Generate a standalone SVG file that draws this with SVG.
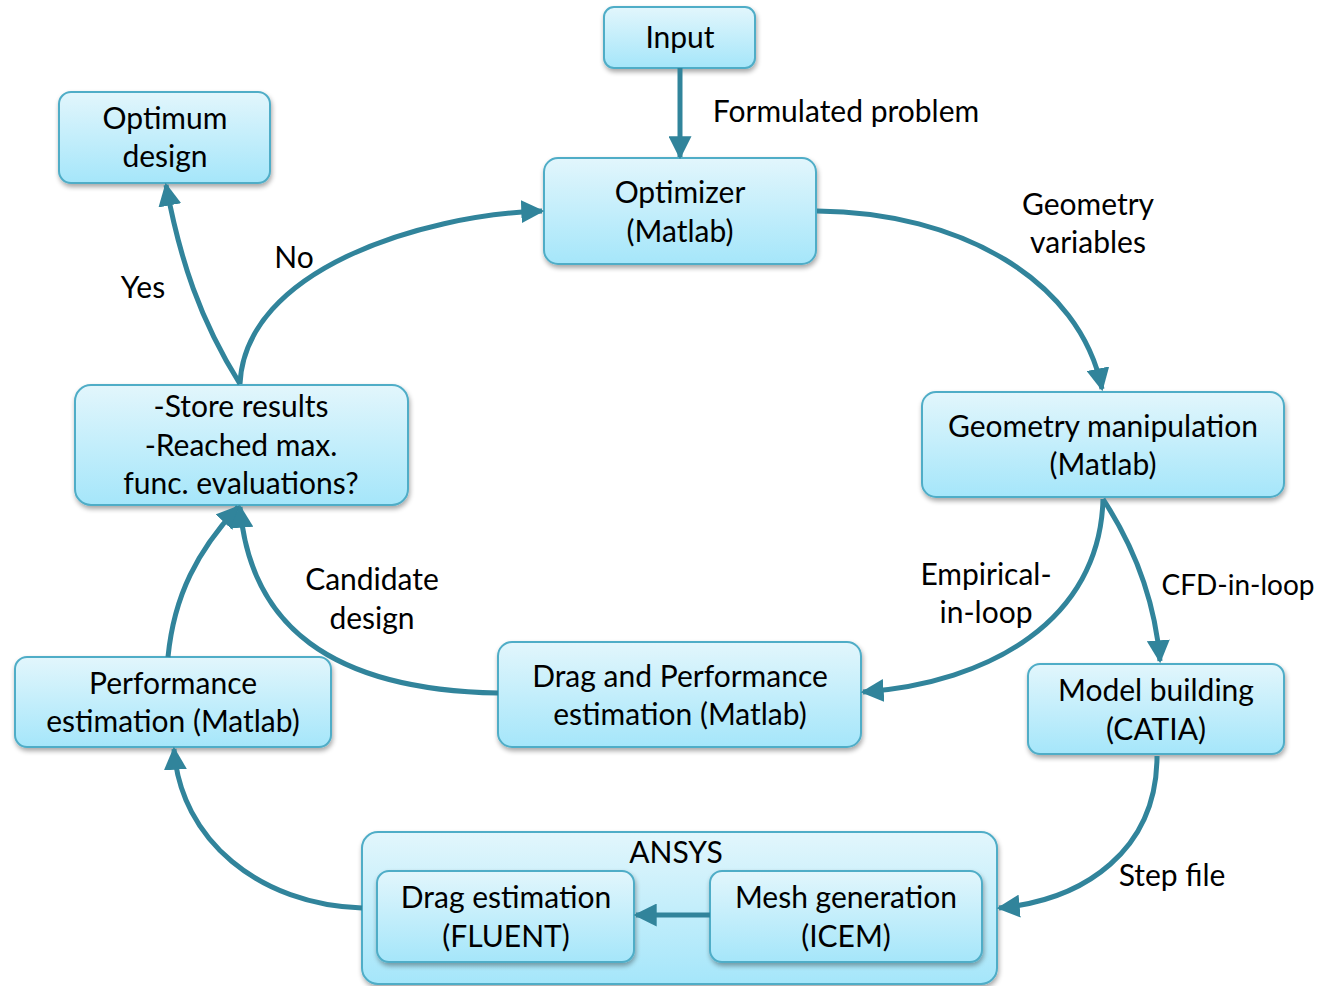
<svg xmlns="http://www.w3.org/2000/svg" width="1321" height="986" viewBox="0 0 1321 986">
  <defs>
    <linearGradient id="boxFill" x1="0" y1="0" x2="0" y2="1">
      <stop offset="0" stop-color="#e2f6fc"/>
      <stop offset="1" stop-color="#a5e6fa"/>
    </linearGradient>
    <filter id="shadow" x="-10%" y="-10%" width="120%" height="130%">
      <feGaussianBlur in="SourceAlpha" stdDeviation="2.5"/>
      <feOffset dx="1" dy="3" result="b"/>
      <feComponentTransfer><feFuncA type="linear" slope="0.35"/></feComponentTransfer>
      <feMerge><feMergeNode/><feMergeNode in="SourceGraphic"/></feMerge>
    </filter>
    <marker id="arrow" viewBox="0 0 10 10" refX="9" refY="5" markerWidth="4.6" markerHeight="4.6" orient="auto" markerUnits="strokeWidth">
      <path d="M0,0 L10,5 L0,10 Z" fill="#31849b"/>
    </marker>
  </defs>
  <style>
    .box { fill: url(#boxFill); stroke: #4fadc7; stroke-width: 2; filter: url(#shadow); }
    .lbl { font-family: "Lato", "Liberation Sans", sans-serif; font-size: 30px; fill: #000; text-anchor: middle; }
    .edge { fill: none; stroke: #31849b; stroke-width: 5; marker-end: url(#arrow); }
  </style>

  <rect width="1321" height="986" fill="#ffffff"/>

  <!-- container box for the ANSYS tools -->
  <g id="ansys">
    <rect class="box" x="362" y="832" width="635" height="152" rx="16"/>
    <text class="lbl" x="676" y="863">ANSYS</text>
  </g>

  <g id="input">
    <rect class="box" x="604" y="7" width="151" height="61" rx="10"/>
    <text class="lbl" x="680" y="48">Input</text>
  </g>

  <g id="optimizer">
    <rect class="box" x="544" y="158" width="272" height="106" rx="14"/>
    <text class="lbl" x="680" y="203">Optimizer</text>
    <text class="lbl" x="680" y="242">(Matlab)</text>
  </g>

  <g id="optimum">
    <rect class="box" x="59" y="92" width="211" height="91" rx="12"/>
    <text class="lbl" x="165" y="129">Optimum</text>
    <text class="lbl" x="165" y="167">design</text>
  </g>

  <g id="geometry">
    <rect class="box" x="922" y="392" width="362" height="105" rx="14"/>
    <text class="lbl" x="1103" y="437">Geometry manipulation</text>
    <text class="lbl" x="1103" y="475">(Matlab)</text>
  </g>

  <g id="store">
    <rect class="box" x="75" y="385" width="333" height="120" rx="16"/>
    <text class="lbl" x="241" y="417">-Store results</text>
    <text class="lbl" x="241" y="456">-Reached max.</text>
    <text class="lbl" x="241" y="494">func. evaluations?</text>
  </g>

  <g id="dragperf">
    <rect class="box" x="498" y="642" width="363" height="105" rx="14"/>
    <text class="lbl" x="680" y="687">Drag and Performance</text>
    <text class="lbl" x="680" y="725">estimation (Matlab)</text>
  </g>

  <g id="perf">
    <rect class="box" x="15" y="657" width="316" height="90" rx="12"/>
    <text class="lbl" x="173" y="694">Performance</text>
    <text class="lbl" x="173" y="732">estimation (Matlab)</text>
  </g>

  <g id="model">
    <rect class="box" x="1028" y="664" width="256" height="90" rx="12"/>
    <text class="lbl" x="1156" y="701">Model building</text>
    <text class="lbl" x="1156" y="740">(CATIA)</text>
  </g>

  <g id="fluent">
    <rect class="box" x="377" y="871" width="257" height="91" rx="12"/>
    <text class="lbl" x="506" y="908">Drag estimation</text>
    <text class="lbl" x="506" y="947">(FLUENT)</text>
  </g>

  <g id="mesh">
    <rect class="box" x="710" y="871" width="272" height="91" rx="12"/>
    <text class="lbl" x="846" y="908">Mesh generation</text>
    <text class="lbl" x="846" y="947">(ICEM)</text>
  </g>

  <!-- connectors -->
  <g id="connectors">
    <path class="edge" d="M680,68 L680,157"/>
    <path class="edge" d="M817,211 C960,212 1080,280 1102,389"/>
    <path class="edge" d="M1103,499 C1100,620 990,683 863,692"/>
    <path class="edge" d="M1103,499 C1133,545 1155,600 1160,661"/>
    <path class="edge" d="M1157,756 C1157,850 1085,900 999,908"/>
    <path class="edge" d="M710,915 L636,915"/>
    <path class="edge" d="M362,908 C260,905 180,840 174,749"/>
    <path class="edge" d="M168,657 C174,595 198,550 238,507"/>
    <path class="edge" d="M498,693 C330,690 250,625 240,507"/>
    <path class="edge" d="M240,384 C245,270 420,215 542,211"/>
    <path class="edge" d="M240,384 C200,320 180,260 166,185"/>
  </g>

  <!-- connector labels -->
  <g id="edge-labels">
    <text class="lbl" x="846" y="122">Formulated problem</text>
    <text class="lbl" x="1088" y="215">Geometry</text>
    <text class="lbl" x="1088" y="253">variables</text>
    <text class="lbl" x="294" y="268">No</text>
    <text class="lbl" x="143" y="298">Yes</text>
    <text class="lbl" x="986" y="585">Empirical-</text>
    <text class="lbl" x="986" y="623">in-loop</text>
    <text class="lbl" x="1238" y="595" style="font-size:28px">CFD-in-loop</text>
    <text class="lbl" x="372" y="590">Candidate</text>
    <text class="lbl" x="372" y="629">design</text>
    <text class="lbl" x="1172" y="886">Step file</text>
  </g>
</svg>
